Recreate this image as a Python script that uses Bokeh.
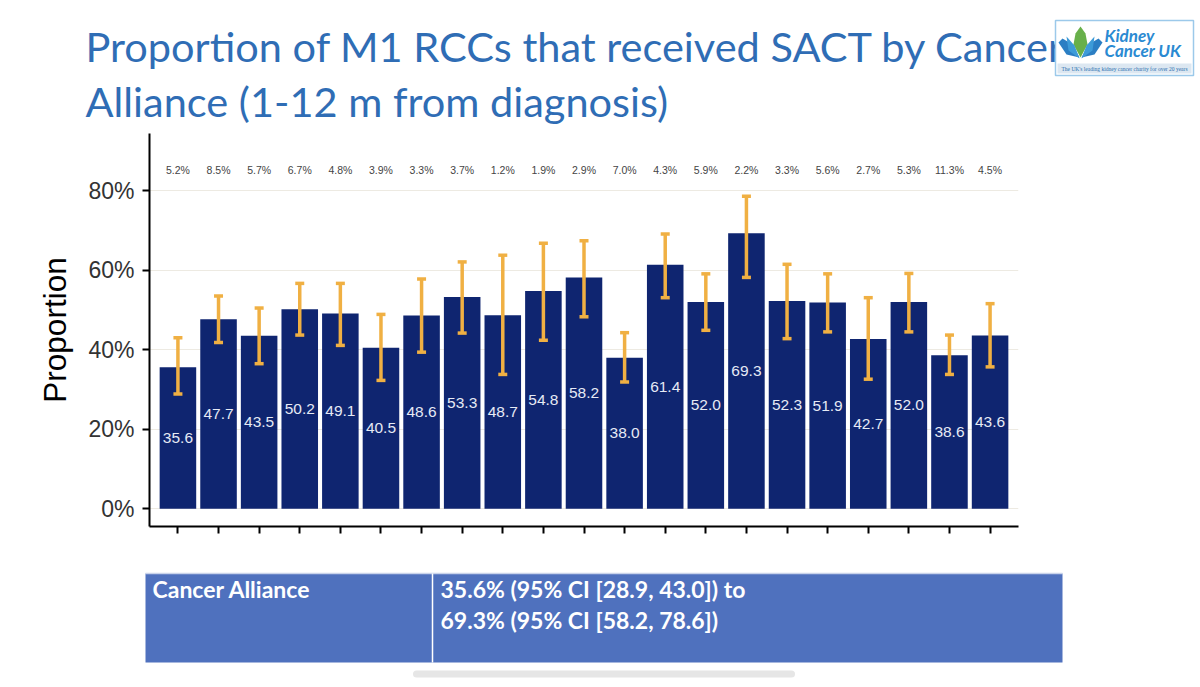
from bokeh.plotting import figure
from bokeh.models import (FactorRange, Range1d, FixedTicker, ColumnDataSource,
                          CustomJSTickFormatter)
from bokeh.core.properties import value
from bokeh.embed import file_html
from bokeh.resources import INLINE

# ---------------- data ----------------
alliances = ["CA01", "CA02", "CA03", "CA04", "CA05", "CA06", "CA07", "CA08", "CA09", "CA10", "CA11",
             "CA12", "CA13", "CA14", "CA15", "CA16", "CA17", "CA18", "CA19", "CA20", "CA21"]
proportion = [35.6, 47.7, 43.5, 50.2, 49.1, 40.5, 48.6, 53.3, 48.7, 54.8, 58.2,
              38.0, 61.4, 52.0, 69.3, 52.3, 51.9, 42.7, 52.0, 38.6, 43.6]
ci_lower = [28.9, 41.8, 36.5, 43.7, 41.1, 32.3, 39.4, 44.2, 33.8, 42.4, 48.3,
            31.9, 53.1, 44.9, 58.2, 42.8, 44.5, 32.6, 44.5, 33.8, 35.7]
ci_upper = [43.0, 53.5, 50.5, 56.7, 56.7, 48.9, 57.8, 62.1, 63.8, 66.8, 67.4,
            44.3, 69.1, 59.1, 78.6, 61.5, 59.1, 53.1, 59.2, 43.7, 51.6]
top_pct = [5.2, 8.5, 5.7, 6.7, 4.8, 3.9, 3.3, 3.7, 1.2, 1.9, 2.9,
           7.0, 4.3, 5.9, 2.2, 3.3, 5.6, 2.7, 5.3, 11.3, 4.5]
y_ticks = [0, 20, 40, 60, 80]

title_lines = ["Proportion of M1 RCCs that received SACT by Cancer",
               "Alliance (1-12 m from diagnosis)"]
table_header = "Cancer Alliance"
table_lines = ["35.6% (95% CI [28.9, 43.0]) to", "69.3% (95% CI [58.2, 78.6])"]

NAVY = "#0F2570"
ORANGE = "#F0B043"
TITLE_BLUE = "#2F6DB5"

# ---------------- title figure ----------------
t = figure(width=1200, height=128, x_range=Range1d(0, 1200), y_range=Range1d(128, 0),
           min_border=0, output_backend="svg", toolbar_location=None,
           x_axis_location=None, y_axis_location=None, outline_line_color=None)
t.grid.visible = False
t.text(x=[85, 85], y=[45, 100], text=title_lines, text_baseline="alphabetic",
       text_align="left", text_font=value("Lato"), text_font_size="41.5px",
       text_color=TITLE_BLUE)

# logo
t.quad(left=[1055], right=[1193], top=[20], bottom=[75], fill_color="white",
       line_color="#9CC9EA", line_width=1.5)
t.quad(left=[1057], right=[1191], top=[63], bottom=[73], fill_color="#DCE7F1", line_color=None)
t.patch([1066, 1058, 1062, 1072, 1079], [54, 42, 38, 44, 57], fill_color="#2B7EC3", line_color=None)
t.patch([1094, 1102, 1098, 1088, 1081], [54, 42, 38, 44, 57], fill_color="#2B7EC3", line_color=None)
t.patch([1080, 1073, 1075, 1080, 1085, 1087], [57, 44, 33, 26, 33, 44], fill_color="#68B04A", line_color=None)
t.patch([1079, 1068, 1066, 1074], [58, 50, 36, 45], fill_color="#3D9BD8", line_color=None)
t.patch([1081, 1092, 1094, 1086], [58, 50, 36, 45], fill_color="#3D9BD8", line_color=None)
t.text(x=[1104, 1104], y=[35, 50], text=["Kidney", "Cancer UK"], text_baseline="alphabetic",
       text_font=value("Lato"), text_font_style="bold italic", text_font_size="17px",
       text_color="#2A8AD2")
t.text(x=[1124], y=[68.5], text=["The UK's leading kidney cancer charity for over 20 years"],
       text_align="center", text_baseline="middle", text_font=value("Liberation Sans Narrow"),
       text_font_size="5.5px", text_color="#2A6FB0")

# ---------------- chart figure ----------------
src = ColumnDataSource(dict(
    alliance=alliances,
    proportion=proportion,
    lower=ci_lower,
    upper=ci_upper,
    label=[f"{v:.1f}" for v in proportion],
    label_y=[v / 2 for v in proportion],
    top_label=[f"{v:.1f}%" for v in top_pct],
    top_y=[85.2] * len(alliances),
))

p = figure(x_range=FactorRange(factors=alliances, range_padding=0.2, range_padding_units="absolute"),
           y_range=Range1d(-4.45, 94.4),
           frame_width=869, frame_height=393,
           min_border_left=149, min_border_right=182, min_border_top=5, min_border_bottom=19,
           output_backend="svg", toolbar_location=None, outline_line_color=None)

p.xgrid.visible = False
p.ygrid.ticker = FixedTicker(ticks=y_ticks)
p.ygrid.grid_line_color = "#EDEAE2"
p.ygrid.grid_line_width = 1

p.vbar(x="alliance", top="proportion", bottom=0, width=0.9, source=src,
       fill_color=NAVY, line_color=None)
p.segment(x0="alliance", y0="lower", x1="alliance", y1="upper", source=src,
          line_color=ORANGE, line_width=3.5)
p.scatter(x="alliance", y="upper", source=src, marker="dash", size=9,
          line_color=ORANGE, line_width=3.5)
p.scatter(x="alliance", y="lower", source=src, marker="dash", size=9,
          line_color=ORANGE, line_width=3.5)
p.text(x="alliance", y="label_y", text="label", source=src, text_align="center",
       text_baseline="middle", text_color="#E6EAF5", text_font=value("Liberation Sans"),
       text_font_size="15.5px")
p.text(x="alliance", y="top_y", text="top_label", source=src, text_align="center",
       text_baseline="middle", text_color="#444444", text_font=value("Liberation Sans"),
       text_font_size="10.5px")

for ax in (p.xaxis[0], p.yaxis[0]):
    ax.axis_line_width = 2
    ax.axis_line_color = "black"
    ax.major_tick_line_width = 2
    ax.major_tick_line_color = "black"
    ax.major_tick_out = 7
    ax.major_tick_in = 0
    ax.minor_tick_line_color = None

p.xaxis.major_label_text_font_size = "0px"
p.xaxis.major_label_text_color = None

p.yaxis.ticker = FixedTicker(ticks=y_ticks)
p.yaxis.formatter = CustomJSTickFormatter(code="return tick.toFixed(0) + '%';")
p.yaxis.major_label_text_font = "Liberation Sans"
p.yaxis.major_label_text_font_size = "23px"
p.yaxis.major_label_text_color = "#333333"
p.yaxis.major_label_standoff = 8
p.yaxis.axis_label = "Proportion"
p.yaxis.axis_label_text_font = "Liberation Sans"
p.yaxis.axis_label_text_font_size = "31.5px"
p.yaxis.axis_label_text_font_style = "normal"
p.yaxis.axis_label_text_color = "black"
p.yaxis.axis_label_standoff = 12

# ---------------- table figure ----------------
tb = figure(width=1200, height=140, x_range=Range1d(0, 1200), y_range=Range1d(685, 545),
            min_border=0, output_backend="svg", toolbar_location=None,
            x_axis_location=None, y_axis_location=None, outline_line_color=None)
tb.grid.visible = False
tb.quad(left=[145], right=[1062], top=[573], bottom=[662], fill_color="#4F71BE", line_color=None)
tb.segment(x0=[145], y0=[573], x1=[1062], y1=[573], line_color="#C9D3EA", line_width=1.5)
tb.segment(x0=[432], y0=[573], x1=[432], y1=[662], line_color="white", line_width=1.5)
tb.text(x=[152], y=[588.5], text=[table_header], text_baseline="alphabetic",
        text_font=value("Lato"), text_font_style="bold", text_font_size="23px", text_color="white")
tb.text(x=[440, 440], y=[588.5, 619.5], text=table_lines, text_baseline="alphabetic",
        text_font=value("Lato"), text_font_style="bold", text_font_size="23px", text_color="white")
tb.segment(x0=[416], y0=[673.5], x1=[791], y1=[673.5], line_color="#E6E6E6",
           line_width=7, line_cap="round")

open("out.html", "w").write(file_html([t, p, tb], INLINE))
